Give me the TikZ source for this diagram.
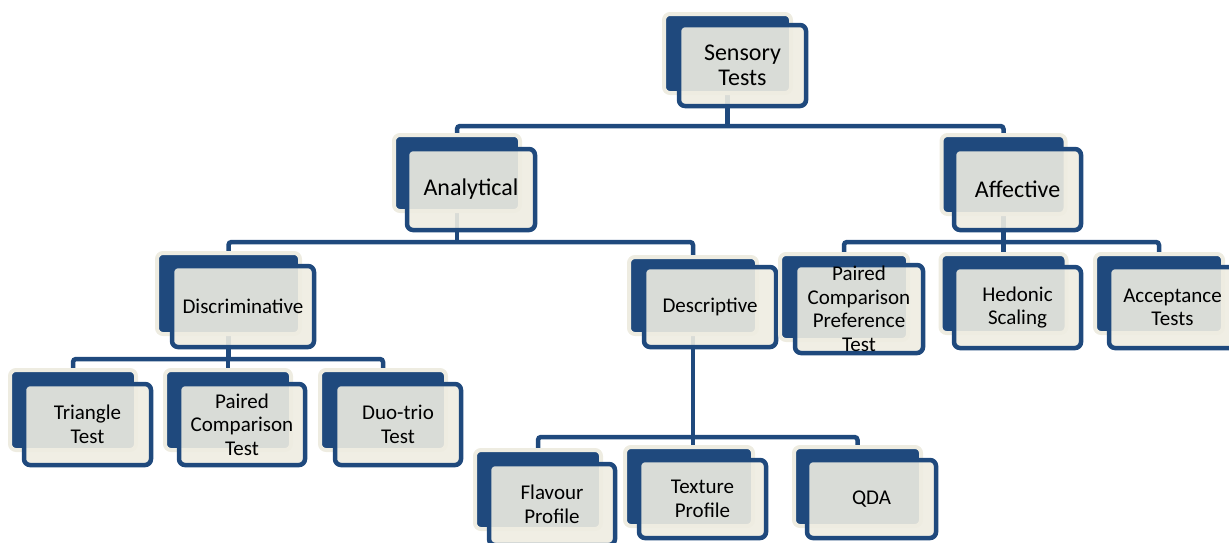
\documentclass[tikz,border=0pt]{standalone}
\usepackage{fontspec}
\setmainfont{Carlito}
\usetikzlibrary{backgrounds}
\definecolor{dblue}{HTML}{1F497D}
\definecolor{cream}{HTML}{EEECE1}
\begin{document}
\begin{tikzpicture}[x=1pt,y=-1pt,
  backbox/.style={rectangle, rounded corners=6pt, fill=dblue, draw=cream, line width=4pt, inner sep=0pt, outer sep=0pt},
  frontbox/.style={rectangle, rounded corners=6pt, fill=cream, fill opacity=0.9, text opacity=1, draw=dblue, line width=4.5pt, inner sep=0pt, outer sep=0pt, align=center, text=black, font=\fontsize{21}{23.5}\selectfont},
  bigtext/.style={font=\fontsize{24}{25}\selectfont},
  conn/.style={draw=dblue, line width=4.5pt, rounded corners=3pt}]
\useasboundingbox (0,0) rectangle (1229,542);
\coordinate (bus1) at (0,126);
\coordinate (bus2) at (0,242);
\coordinate (bus4) at (0,359);
\coordinate (bus5) at (0,437);
% Sensory Tests
\node[backbox, minimum width=127pt, minimum height=79pt] (sens) at (727.5,53.5) {};
\node[frontbox, bigtext, minimum width=127pt, minimum height=81pt] (sens-f) at (742.5,65.5) {Sensory\\Tests};
% Analytical
\node[backbox, minimum width=126pt, minimum height=76pt] (ana) at (457,173) {};
\node[frontbox, bigtext, minimum width=128pt, minimum height=81pt] (ana-f) at (471,189.5) {Analytical};
% Affective
\node[backbox, minimum width=124pt, minimum height=79pt] (aff) at (1003.5,174.5) {};
\node[frontbox, bigtext, minimum width=127pt, minimum height=81pt] (aff-f) at (1017.5,189.5) {Affective};
% Discriminative
\node[backbox, minimum width=143pt, minimum height=81pt] (disc) at (228.5,293.5) {};
\node[frontbox, minimum width=142pt, minimum height=81pt] (disc-f) at (243,306.5) {Discriminative};
% Descriptive
\node[backbox, minimum width=128pt, minimum height=77pt] (desc) at (693,295.5) {};
\node[frontbox, minimum width=132pt, minimum height=80pt] (desc-f) at (710,307) {Descriptive};
% Paired Comparison Preference Test
\node[backbox, minimum width=128pt, minimum height=86pt] (pref) at (844,297) {};
\node[frontbox, minimum width=128pt, minimum height=88pt] (pref-f) at (859,309) {Paired\\Comparison\\Preference\\Test};
% Hedonic Scaling
\node[backbox, minimum width=126pt, minimum height=79pt] (hed) at (1003.5,293.5) {};
\node[frontbox, minimum width=127pt, minimum height=81pt] (hed-f) at (1017.5,307.5) {Hedonic\\Scaling};
% Acceptance Tests
\node[backbox, minimum width=128pt, minimum height=79pt] (acc) at (1159,293.5) {};
\node[frontbox, minimum width=127pt, minimum height=81pt] (acc-f) at (1172.5,307.5) {Acceptance\\Tests};
% Triangle Test
\node[backbox, minimum width=126pt, minimum height=80pt] (tri) at (73,410) {};
\node[frontbox, minimum width=127pt, minimum height=81pt] (tri-f) at (87.5,424.5) {Triangle\\Test};
% Paired Comparison Test
\node[backbox, minimum width=126pt, minimum height=80pt] (pair) at (228,410) {};
\node[frontbox, minimum width=126pt, minimum height=81pt] (pair-f) at (242,424.5) {Paired\\Comparison\\Test};
% Duo-trio Test
\node[backbox, minimum width=126pt, minimum height=80pt] (duo) at (383,410) {};
\node[frontbox, minimum width=126pt, minimum height=81pt] (duo-f) at (398,424.5) {Duo-trio\\Test};
% Flavour Profile
\node[backbox, minimum width=126pt, minimum height=79pt] (flav) at (538,489.5) {};
\node[frontbox, minimum width=126pt, minimum height=81pt] (flav-f) at (552,504.5) {Flavour\\Profile};
% Texture Profile
\node[backbox, minimum width=128pt, minimum height=79pt] (tex) at (689,486.5) {};
\node[frontbox, minimum width=127pt, minimum height=78pt] (tex-f) at (702.5,499) {Texture\\Profile};
% QDA
\node[backbox, minimum width=127pt, minimum height=79pt] (qda) at (857.5,486.5) {};
\node[frontbox, minimum width=129pt, minimum height=78pt] (qda-f) at (871.5,499) {QDA};
% connectors
\begin{scope}[on background layer]
\draw[conn] (sens.center) -- (sens.center |- bus1);
\draw[conn] (ana.north) |- (aff.north |- bus1) -- (aff.north);
\draw[conn] (ana.center) -- (ana.center |- bus2);
\draw[conn] (disc.north) |- (desc.north |- bus2) -- (desc.north);
\draw[conn] (aff.center) -- (aff.center |- bus2);
\draw[conn] (pref.north) |- (acc.north |- bus2) -- (acc.north);
\draw[conn] (hed.north) -- (hed.north |- bus2);
\draw[conn] (disc.center) -- (disc.center |- bus4);
\draw[conn] (tri.north) |- (duo.north |- bus4) -- (duo.north);
\draw[conn] (pair.north) -- (pair.north |- bus4);
\draw[conn] (desc.center) -- (desc.center |- tex.north);
\draw[conn] (flav.north) |- (qda.north |- bus5) -- (qda.north);
\end{scope}
\end{tikzpicture}
\end{document}
